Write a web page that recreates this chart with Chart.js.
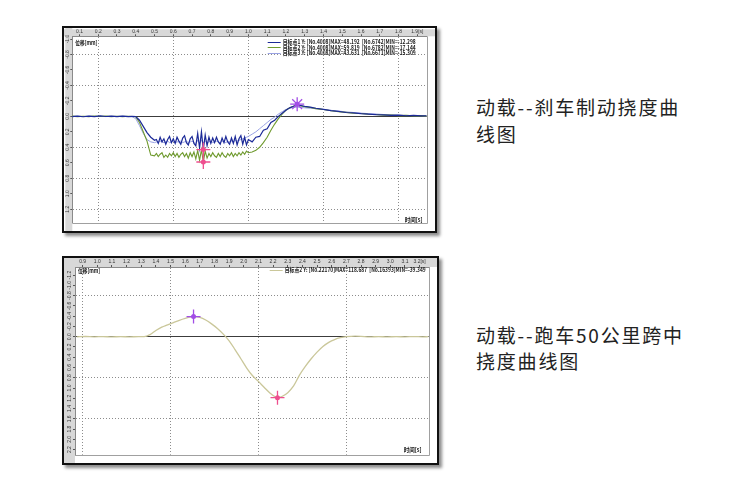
<!DOCTYPE html>
<html>
<head>
<meta charset="utf-8">
<script src="https://cdn.jsdelivr.net/npm/chart.js@4.4.1/dist/chart.umd.min.js"></script>
<style>
  html, body { margin: 0; padding: 0; background: #fff; }
  body { width: 750px; height: 492px; position: relative; overflow: hidden; }
  .frame { position: absolute; border: 2px solid #111; background: #fff; box-shadow: 3px 3px 3px rgba(0,0,0,0.45); }
  .frame .box { position: absolute; left: 0; top: 0; right: 0; bottom: 0; }
  #f1 { left: 62px; top: 26px; width: 371px; height: 203px; }
  #f2 { left: 62px; top: 256px; width: 373px; height: 205px; }
  .caption { position: absolute; left: 476px; font-family: 'Noto Sans CJK SC', sans-serif; font-size: 19px; letter-spacing: 1.8px; color: #222; white-space: nowrap; }
  #c1 { top: 93px; line-height: 27px; }
  #c2 { top: 322px; line-height: 26px; }
</style>
</head>
<body>
<div class="frame" id="f1"><div class="box"><canvas id="chart1"></canvas></div></div>
<div class="frame" id="f2"><div class="box"><canvas id="chart2"></canvas></div></div>
<div class="caption" id="c1">动载--刹车制动挠度曲<br>线图</div>
<div class="caption" id="c2">动载--跑车50公里跨中<br>挠度曲线图</div>
<script>
// 动载 deflection curves, values in mm (downward = positive, axis reversed)

// --- chart 1: 刹车制动 (braking), three target points ---
const T1 = [0.06, 0.09, 0.12, 0.15, 0.18, 0.21, 0.24, 0.27, 0.30, 0.33, 0.36, 0.38, 0.40,
    0.42, 0.44, 0.46, 0.48, 0.50,
    0.51, 0.52, 0.53, 0.54, 0.55, 0.56, 0.57, 0.58, 0.59, 0.60,
    0.61, 0.62, 0.63, 0.64, 0.65, 0.66, 0.67, 0.68, 0.69, 0.70,
    0.71, 0.72, 0.73, 0.74, 0.75, 0.76, 0.77, 0.78, 0.79, 0.80,
    0.81, 0.82, 0.83, 0.84, 0.85, 0.86, 0.87, 0.88, 0.89, 0.90,
    0.91, 0.92, 0.93, 0.94, 0.95, 0.96, 0.97, 0.98, 0.99, 1.00,
    1.02, 1.04, 1.06, 1.08, 1.10, 1.12, 1.14, 1.16, 1.18, 1.20, 1.22, 1.24, 1.26, 1.28, 1.30,
    1.33, 1.36, 1.40, 1.44, 1.48, 1.52, 1.56, 1.60, 1.64, 1.68, 1.72, 1.76, 1.80, 1.84, 1.88, 1.92, 1.95];

const P1 = [0.003, -0.004, 0.005, -0.002, 0.004, -0.005, 0.002, -0.003, 0.004, -0.002, 0.003, 0.000, 0.002,
    0.05, 0.13, 0.21, 0.27, 0.31,
    0.30, 0.35, 0.27, 0.33, 0.29, 0.36, 0.30, 0.26, 0.34, 0.29,
    0.35, 0.27, 0.32, 0.36, 0.28, 0.25, 0.34, 0.37, 0.29, 0.26,
    0.35, 0.38, 0.22, 0.41, 0.20, 0.43, 0.24, 0.38, 0.27, 0.35,
    0.28, 0.34, 0.27, 0.33, 0.36, 0.28, 0.34, 0.26, 0.33, 0.36,
    0.28, 0.35, 0.26, 0.37, 0.29, 0.25, 0.36, 0.27, 0.37, 0.30,
    0.33, 0.27, 0.26, 0.18, 0.16, 0.08, 0.05, 0.00, -0.04, -0.08, -0.11, -0.13, -0.145, -0.14, -0.13,
    -0.12, -0.105, -0.09, -0.075, -0.065, -0.05, -0.045, -0.035, -0.03, -0.022, -0.02, -0.012, -0.015, -0.008, -0.012, -0.005, -0.008];

const P2 = [-0.003, 0.004, -0.002, 0.003, -0.004, 0.002, -0.003, 0.004, -0.002, 0.003, -0.002, 0.002, 0.004,
    0.08, 0.20, 0.32, 0.50, 0.51,
    0.48, 0.52, 0.49, 0.47, 0.53, 0.50, 0.53, 0.48, 0.51, 0.47,
    0.52, 0.48, 0.53, 0.49, 0.47, 0.52, 0.48, 0.54, 0.47, 0.52,
    0.46, 0.55, 0.44, 0.57, 0.43, 0.59, 0.45, 0.54, 0.48, 0.52,
    0.47, 0.51, 0.53, 0.48, 0.52, 0.47, 0.51, 0.53, 0.48, 0.51,
    0.47, 0.52, 0.48, 0.51, 0.47, 0.50, 0.46, 0.49, 0.45, 0.47,
    0.46, 0.44, 0.40, 0.34, 0.27, 0.18, 0.10, 0.03, -0.03, -0.08, -0.11, -0.13, -0.14, -0.135, -0.125,
    -0.115, -0.10, -0.088, -0.072, -0.06, -0.052, -0.04, -0.036, -0.028, -0.024, -0.016, -0.018, -0.01, -0.012, -0.006, -0.009, -0.004];

const P3 = [0.002, -0.002, 0.003, -0.003, 0.002, -0.002, 0.003, -0.002, 0.002, -0.003, 0.002, 0.005, 0.03,
    0.12, 0.22, 0.30, 0.33, 0.34,
    0.33, 0.34, 0.32, 0.33, 0.34, 0.33, 0.32, 0.34, 0.33, 0.32,
    0.34, 0.33, 0.33, 0.32, 0.34, 0.33, 0.32, 0.34, 0.33, 0.32,
    0.34, 0.35, 0.31, 0.35, 0.31, 0.34, 0.32, 0.34, 0.33, 0.32,
    0.34, 0.33, 0.32, 0.33, 0.34, 0.32, 0.33, 0.34, 0.32, 0.33,
    0.32, 0.33, 0.31, 0.32, 0.31, 0.30, 0.29, 0.28, 0.27, 0.26,
    0.23, 0.20, 0.16, 0.12, 0.08, 0.04, 0.01, -0.03, -0.06, -0.09, -0.105, -0.115, -0.12, -0.115, -0.11,
    -0.105, -0.098, -0.088, -0.078, -0.068, -0.058, -0.05, -0.042, -0.035, -0.03, -0.024, -0.02, -0.016, -0.012, -0.01, -0.008, -0.006];

const LEGEND1 = [
    '目标点1 Y: [No.4008]MAX=48.192  [No.6742]MIN=-12.298',
    '目标点2 Y: [No.4008]MAX=59.819  [No.6782]MIN=-17.144',
    '目标点3 Y: [No.4008]MAX=43.631  [No.6671]MIN=-15.309'
];
const MARK1_X = [1.26, 0.76, 0.76];
const MARK1_Y = [-0.157, 0.43, 0.59];

// --- chart 2: 跑车50公里 跨中, target point 2 ---
const T2 = [0.86, 0.92, 0.98, 1.04, 1.10, 1.16, 1.22, 1.28, 1.32, 1.36, 1.40, 1.44, 1.48, 1.52, 1.56,
    1.60, 1.64, 1.66, 1.70, 1.74, 1.78, 1.82, 1.86, 1.90, 1.94, 1.98, 2.02, 2.06, 2.10, 2.14, 2.18,
    2.22, 2.23, 2.26, 2.30, 2.34, 2.38, 2.42, 2.46, 2.50, 2.54, 2.58, 2.62, 2.66, 2.70, 2.76, 2.80,
    2.86, 2.92, 2.98, 3.04, 3.10, 3.16, 3.22, 3.26];
const Q2 = [0.003, -0.004, 0.002, -0.003, 0.004, -0.002, 0.003, -0.002, 0.0, -0.04, -0.12, -0.185, -0.23, -0.275, -0.318,
    -0.355, -0.385, -0.393, -0.375, -0.325, -0.25, -0.16, -0.05, 0.08, 0.25, 0.43, 0.61, 0.76, 0.87, 0.99, 1.10,
    1.18, 1.187, 1.165, 1.09, 0.96, 0.75, 0.58, 0.43, 0.30, 0.19, 0.11, 0.055, 0.02, 0.0, -0.012, -0.008,
    0.004, -0.003, 0.004, -0.002, 0.003, -0.003, 0.002, 0.0];
const LEGEND2 = ['目标点2 Y: [No.22170]MAX=118.687  [No.16393]MIN=-39.349'];
const MARK2_X = [1.657, 2.23];
const MARK2_Y = [-0.393, 1.187];

const Y_TITLE = '位移[mm]';
const X_TITLE = '时间[s]';

// styles
const GRID = '#8c8c8c';
const ZERO = '#3c3c3c';
const RULER_BG = '#d8d8d8';
const TICK_TXT = '#333';
const C_P1 = '#1c2a98', C_P2 = '#6f9a2e', C_P3 = '#99a2e4', C_Q2 = '#cac79a';
const C_MIN = '#a24de6', C_MAX = '#ee4f8f';

Chart.defaults.font.family = "'Liberation Sans', 'DejaVu Sans', sans-serif";

function near(v, start, step) {
    const k = (v - start) / step;
    return Math.abs(k - Math.round(k)) < 1e-6;
}
const pts = (xs, ys) => xs.map((x, i) => ({ x, y: ys[i] }));

function makeScales(o) {
    return {
        x: {
            type: 'linear', position: 'top', min: o.xMin, max: o.xMax,
            afterFit: s => { s.height = o.rulerTop; },
            ticks: {
                stepSize: 0.1, includeBounds: false, autoSkip: false, maxRotation: 0, padding: 0,
                color: TICK_TXT, font: { size: 5 },
                callback: (v, i, t) => v.toFixed(1) + (i === t.length - 1 ? '[s]' : '')
            },
            grid: {
                color: c => c.tick && near(c.tick.value, o.xGridFrom, o.xGridStep) ? GRID : 'transparent',
                tickColor: '#555', tickLength: 2, lineWidth: 1
            },
            border: { color: '#8a8a8a', dash: [1, 2] }
        },
        y: {
            type: 'linear', reverse: true, min: o.yMin, max: o.yMax,
            afterFit: s => { s.width = o.rulerLeft; },
            ticks: {
                stepSize: 0.2, includeBounds: false, autoSkip: false, minRotation: 90, maxRotation: 90,
                crossAlign: 'center', padding: o.yPad, color: TICK_TXT, font: { size: 5 },
                callback: v => v.toFixed(1)
            },
            grid: {
                color: c => !c.tick ? 'transparent'
                    : Math.abs(c.tick.value) < 1e-9 ? ZERO
                    : near(c.tick.value, 0, o.yGridStep) ? GRID : 'transparent',
                tickColor: '#555', tickLength: 2, lineWidth: 1
            },
            border: { color: '#8a8a8a', dash: c => c.tick && Math.abs(c.tick.value) < 1e-9 ? [] : [1, 2] }
        }
    };
}

// ruler strips, plot edge, titles and the in-plot legend
const decor = {
    id: 'decor',
    beforeDraw(chart) {
        const { ctx, chartArea: a, scales: { x, y } } = chart;
        ctx.save();
        ctx.fillStyle = '#fff';
        ctx.fillRect(0, 0, chart.width, chart.height);
        ctx.fillStyle = RULER_BG;
        ctx.fillRect(0, x.top, chart.width, x.bottom - x.top);
        ctx.fillRect(y.left, 0, y.right - y.left, chart.height);
        ctx.strokeStyle = '#a0a0a0';
        ctx.lineWidth = 1;
        ctx.beginPath();
        ctx.moveTo(Math.round(a.right) + 0.5, a.top);
        ctx.lineTo(Math.round(a.right) + 0.5, Math.round(a.bottom) + 0.5);
        ctx.lineTo(a.left, Math.round(a.bottom) + 0.5);
        ctx.stroke();
        ctx.restore();
    },
    afterDraw(chart, args, o) {
        const { ctx, chartArea: a } = chart;
        ctx.save();
        ctx.font = "bold 6px 'Noto Sans CJK SC', 'Liberation Sans', sans-serif";
        ctx.textBaseline = 'middle';
        ctx.fillStyle = '#111';
        ctx.textAlign = 'left';
        ctx.fillText(Y_TITLE, a.left + o.yTitleDx, a.top + o.yTitleDy, 22);
        ctx.textAlign = 'right';
        ctx.fillText(X_TITLE, a.right - o.xTitleDx, a.bottom - o.xTitleDy, 18);

        const series = chart.data.datasets.filter(d => d.label);
        series.forEach((d, i) => {
            const yy = a.top + o.legTop + i * o.legGap;
            const xr = a.right - o.legRight;
            const w = Math.min(ctx.measureText(d.label).width, o.legW);
            ctx.fillStyle = '#222';
            ctx.fillText(d.label, xr, yy, o.legW);
            ctx.strokeStyle = d.borderColor;
            ctx.lineWidth = 1;
            ctx.beginPath();
            ctx.moveTo(xr - w - 15, Math.round(yy) + 0.5);
            ctx.lineTo(xr - w - 2, Math.round(yy) + 0.5);
            ctx.stroke();
        });
        ctx.restore();
    }
};

function lineSet(label, xs, ys, color, width) {
    return { label, data: pts(xs, ys), borderColor: color, borderWidth: width,
             pointRadius: 0, tension: 0, fill: false };
}

const baseOpts = {
    responsive: true, maintainAspectRatio: false, animation: false, events: []
};

new Chart(document.getElementById('chart1'), {
    type: 'line',
    data: {
        datasets: [
            { data: pts(MARK1_X, MARK1_Y), showLine: false, pointStyle: ['star', 'cross', 'cross'],
              pointRadius: 7, borderWidth: 1.3, borderColor: [C_MIN, C_MAX, C_MAX] },
            { data: pts(MARK1_X, MARK1_Y), showLine: false, pointStyle: 'circle', pointRadius: 2.5,
              borderWidth: 0, backgroundColor: [C_MIN, C_MAX, C_MAX] },
            lineSet(LEGEND1[0], T1, P1, C_P1, 1.2),
            lineSet(LEGEND1[1], T1, P2, C_P2, 1.1),
            lineSet(LEGEND1[2], T1, P3, C_P3, 1)
        ]
    },
    options: {
        ...baseOpts,
        layout: { padding: { right: 4, bottom: 2 } },
        scales: makeScales({ xMin: 0.062, xMax: 1.95, xGridFrom: 0.2, xGridStep: 0.4,
                             yMin: -1.035, yMax: 1.375, yGridStep: 0.4,
                             rulerTop: 7, rulerLeft: 7, yPad: -2 }),
        plugins: {
            legend: { display: false }, tooltip: { enabled: false },
            decor: { yTitleDx: 3, yTitleDy: 6, xTitleDx: 4, xTitleDy: 3,
                     legTop: 5.5, legGap: 5.5, legRight: 11, legW: 133 }
        }
    },
    plugins: [decor]
});

new Chart(document.getElementById('chart2'), {
    type: 'line',
    data: {
        datasets: [
            { data: pts(MARK2_X, MARK2_Y), showLine: false, pointStyle: 'cross',
              pointRadius: 7, borderWidth: 1.3, borderColor: [C_MIN, C_MAX] },
            { data: pts(MARK2_X, MARK2_Y), showLine: false, pointStyle: 'circle', pointRadius: 2.5,
              borderWidth: 0, backgroundColor: [C_MIN, C_MAX] },
            { ...lineSet(LEGEND2[0], T2, Q2, C_Q2, 1.3), cubicInterpolationMode: 'monotone' }
        ]
    },
    options: {
        ...baseOpts,
        layout: { padding: { right: 4, bottom: 4 } },
        scales: makeScales({ xMin: 0.848, xMax: 3.262, xGridFrom: 0.9, xGridStep: 0.6,
                             yMin: -1.358, yMax: 2.299, yGridStep: 0.8,
                             rulerTop: 9, rulerLeft: 11, yPad: -1 }),
        plugins: {
            legend: { display: false }, tooltip: { enabled: false },
            decor: { yTitleDx: 3, yTitleDy: 3.5, xTitleDx: 7, xTitleDy: 5,
                     legTop: 3, legGap: 5.5, legRight: 3, legW: 141 }
        }
    },
    plugins: [decor]
});
</script>
</body>
</html>
